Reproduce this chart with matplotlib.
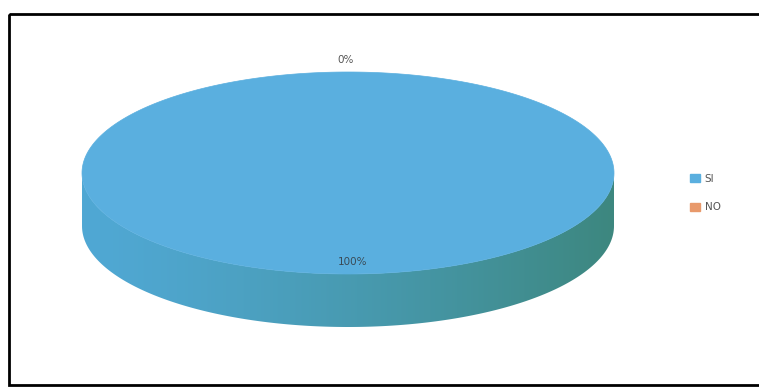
import numpy as np
import matplotlib.pyplot as plt
from matplotlib.patches import Polygon, Rectangle, Patch
from matplotlib.colors import to_rgb

# datos
categorias = ["SI", "NO"]
valores = [100, 0]
colores = ["#5aafdf", "#e8996b"]
colores_lado = [("#50a8d4", "#3d877f"), ("#d9864f", "#b06a3a")]

fig = plt.figure(figsize=(7.59, 3.9), dpi=100)
ax = fig.add_axes([0, 0, 1, 1])
ax.set_xlim(0, 759)
ax.set_ylim(390, 0)
ax.axis("off")

# marco del grafico
ax.add_patch(Rectangle((9, 14), 760, 371, fill=False, edgecolor="black", lw=2))

# geometria del pastel 3D (pixeles)
cx, cy, a, b, prof = 348, 173, 266, 101, 53

total = sum(valores)
angulos = np.cumsum([0] + [v / total * 360 for v in valores])


def punto(phi, dy=0):
    r = np.radians(phi)
    return cx + a * np.sin(r), cy - b * np.cos(r) + dy


# lados (solo la parte frontal, 90..270 grados), con degradado hacia la derecha
for i, v in enumerate(valores):
    a0, a1 = angulos[i], angulos[i + 1]
    lo, hi = max(a0, 90), min(a1, 270)
    if hi <= lo:
        continue
    fases = np.linspace(lo, hi, 200)
    arriba = [punto(p) for p in fases]
    abajo = [punto(p, prof) for p in fases[::-1]]
    lado = Polygon(arriba + abajo, closed=True, facecolor="none", edgecolor="none")
    ax.add_patch(lado)
    xs = [p[0] for p in arriba]
    x_min, x_max = min(xs), max(xs)
    t = np.linspace(0, 1, 256)
    t = ((t * (x_max - x_min) + x_min - (cx - a)) / (2 * a)) ** 1.3
    c1, c2 = np.array(to_rgb(colores_lado[i][0])), np.array(to_rgb(colores_lado[i][1]))
    grad = (c1[None, :] * (1 - t[:, None]) + c2[None, :] * t[:, None])[None, :, :]
    y_min = min(p[1] for p in arriba)
    im = ax.imshow(grad, extent=(x_min, x_max, y_min + prof + b, y_min), aspect="auto",
                   interpolation="bilinear", zorder=1)
    im.set_clip_path(lado)

# caras superiores
for i, v in enumerate(valores):
    a0, a1 = angulos[i], angulos[i + 1]
    if a1 - a0 <= 0:
        continue
    fases = np.linspace(a0, a1, 300)
    pts = [punto(p) for p in fases]
    if a1 - a0 < 360:
        pts = [(cx, cy)] + pts
    ax.add_patch(Polygon(pts, closed=True, facecolor=colores[i], edgecolor=colores[i],
                         lw=0.5, zorder=2))

# etiquetas de porcentaje
for i, v in enumerate(valores):
    medio = (angulos[i] + angulos[i + 1]) / 2
    pct = "{:.0f}%".format(v / total * 100)
    x, y = punto(medio)
    if v / total < 0.05:
        ax.text(x - 2, y - 12, pct, ha="center", va="center", fontsize=7.5, color="#555555",
                family="Liberation Sans Narrow", zorder=3)
    else:
        ax.text(x + 5, y - 12, pct, ha="center", va="center", fontsize=7.5, color="#3a4a55",
                family="Liberation Sans Narrow", zorder=3)

ax.set_xlim(0, 759)
ax.set_ylim(390, 0)

handles = [Patch(facecolor=c, edgecolor=c) for c in colores]
leg = ax.legend(handles, categorias, loc="center left", bbox_to_anchor=(0.897, 0.505),
                bbox_transform=fig.transFigure, frameon=False,
                handlelength=0.9, handleheight=0.9, handletextpad=0.5, labelspacing=1.8,
                prop={"family": "Liberation Sans Narrow", "size": 7.5})
for t in leg.get_texts():
    t.set_color("#555555")

fig.savefig("out.png", dpi=100)
